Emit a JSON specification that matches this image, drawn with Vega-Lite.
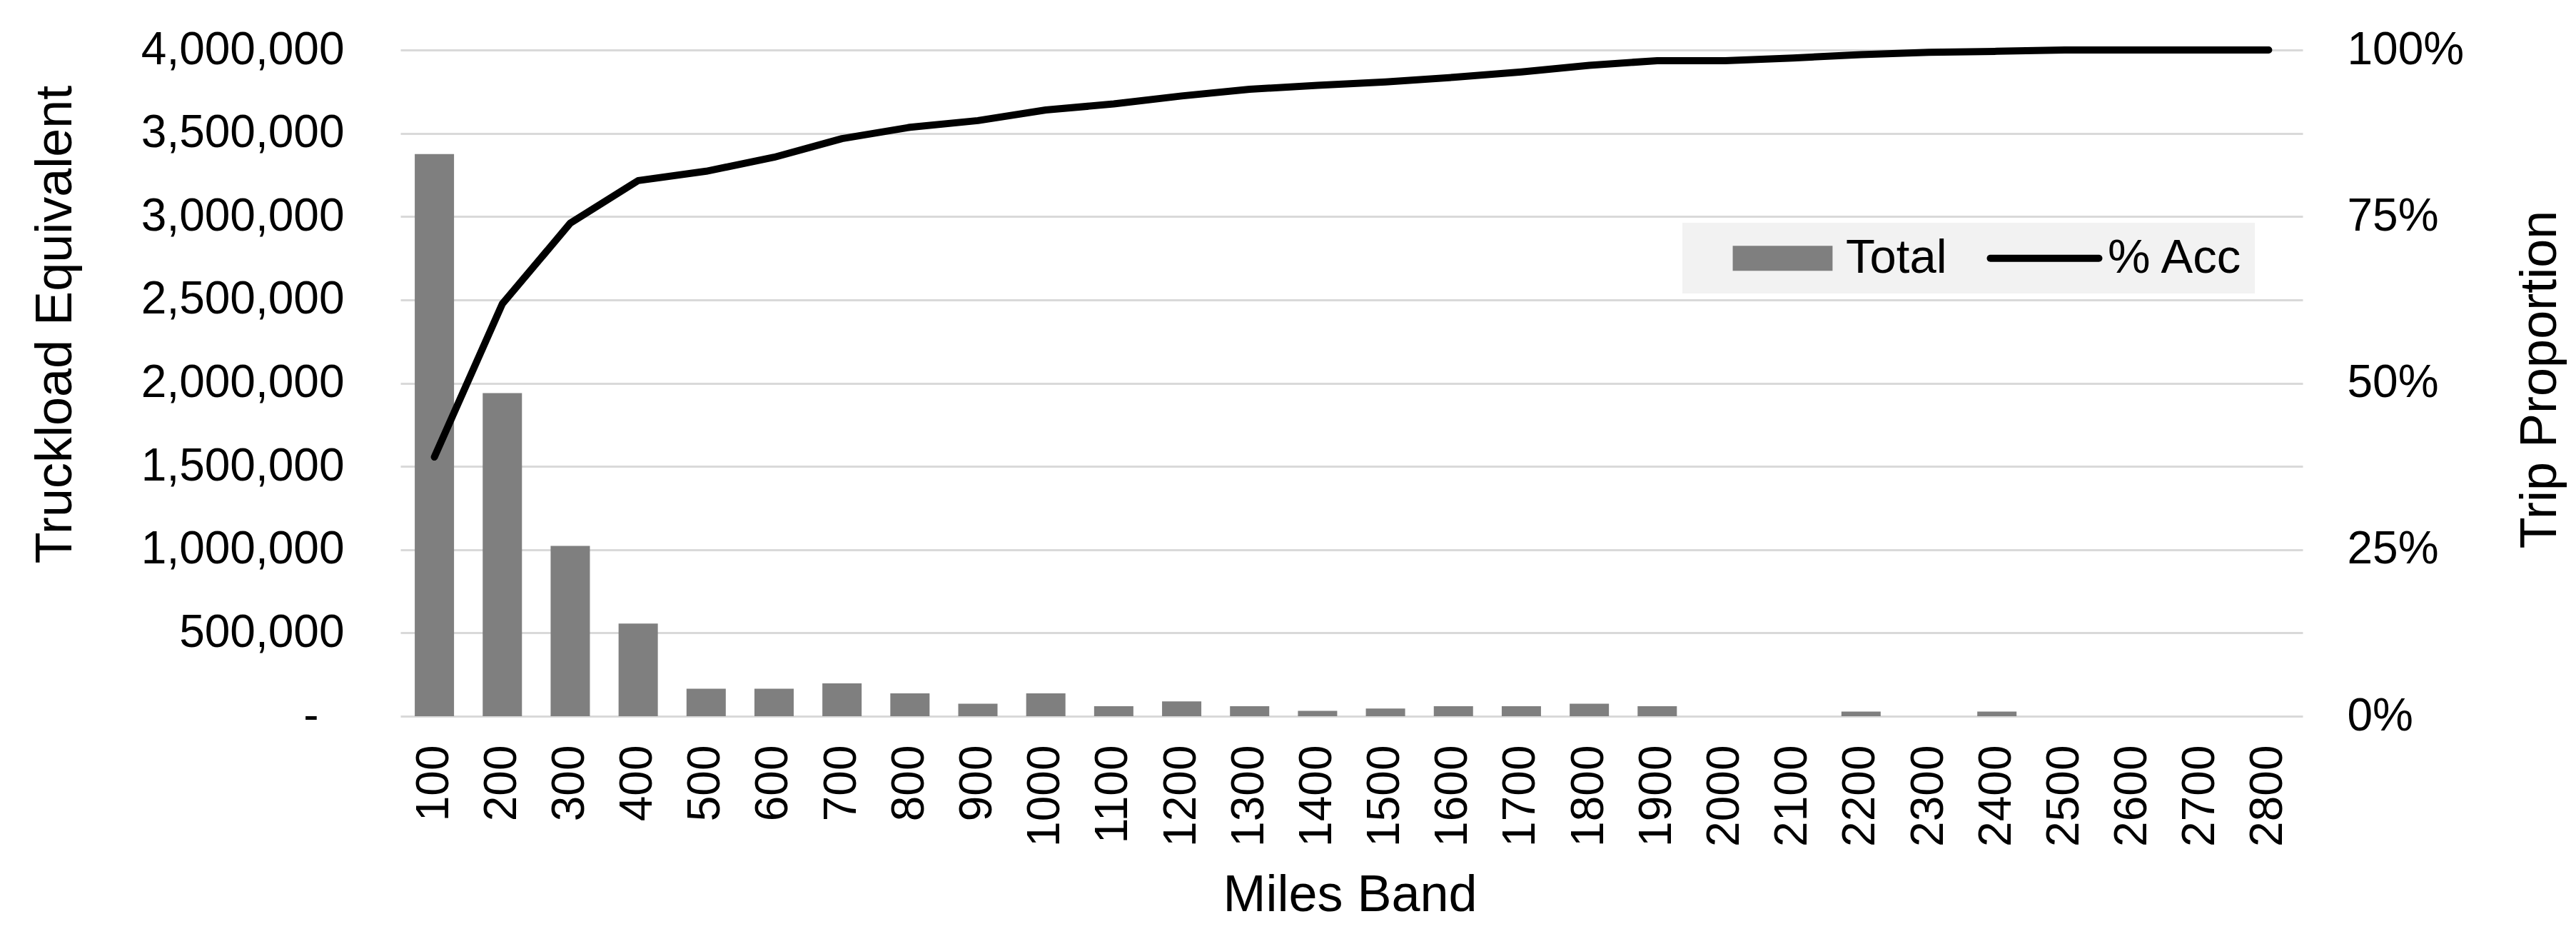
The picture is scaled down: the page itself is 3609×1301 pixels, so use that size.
{
  "$schema": "https://vega.github.io/schema/vega-lite/v6.json",
  "width": 2665,
  "height": 933,
  "autosize": {"type": "none"},
  "padding": {"left": 561, "top": 70, "right": 383, "bottom": 298},
  "background": "white",
  "config": {"view": {"stroke": null}, "font": "Liberation Sans"},
  "data": {
    "values": [
      {"band": 100, "total": 3375000, "acc": 0.389},
      {"band": 200, "total": 1940000, "acc": 0.619},
      {"band": 300, "total": 1023000, "acc": 0.740},
      {"band": 400, "total": 556000, "acc": 0.804},
      {"band": 500, "total": 165000, "acc": 0.818},
      {"band": 600, "total": 165000, "acc": 0.839},
      {"band": 700, "total": 197000, "acc": 0.867},
      {"band": 800, "total": 137000, "acc": 0.884},
      {"band": 900, "total": 75000, "acc": 0.894},
      {"band": 1000, "total": 137000, "acc": 0.910},
      {"band": 1100, "total": 60000, "acc": 0.919},
      {"band": 1200, "total": 89000, "acc": 0.931},
      {"band": 1300, "total": 60000, "acc": 0.941},
      {"band": 1400, "total": 32000, "acc": 0.947},
      {"band": 1500, "total": 46000, "acc": 0.952},
      {"band": 1600, "total": 60000, "acc": 0.959},
      {"band": 1700, "total": 60000, "acc": 0.967},
      {"band": 1800, "total": 75000, "acc": 0.977},
      {"band": 1900, "total": 60000, "acc": 0.984},
      {"band": 2000, "total": 0, "acc": 0.984},
      {"band": 2100, "total": 0, "acc": 0.988},
      {"band": 2200, "total": 28000, "acc": 0.993},
      {"band": 2300, "total": 0, "acc": 0.9965},
      {"band": 2400, "total": 28000, "acc": 0.998},
      {"band": 2500, "total": 0, "acc": 1.0},
      {"band": 2600, "total": 0, "acc": 1.0},
      {"band": 2700, "total": 0, "acc": 1.0},
      {"band": 2800, "total": 0, "acc": 1.0}
    ]
  },
  "encoding": {
    "x": {
      "field": "band",
      "type": "ordinal",
      "scale": {"paddingInner": 0.422, "paddingOuter": 0.211},
      "axis": {
        "labelAngle": 270,
        "labelAlign": "right",
        "labelBaseline": "middle",
        "labelPadding": 40,
        "labelFontSize": 64,
        "labelFont": "Liberation Sans",
        "labelColor": "#000000",
        "labelOverlap": false,
        "labelLimit": 1000,
        "ticks": false,
        "domain": false,
        "grid": false,
        "title": "Miles Band",
        "titleFont": "Liberation Sans",
        "titleFontSize": 72,
        "titleFontWeight": "normal",
        "titleColor": "#000000",
        "titleAlign": "center",
        "titleBaseline": "alphabetic",
        "titleX": 1330,
        "titleY": 272
      }
    }
  },
  "layer": [
    {
      "mark": {"type": "bar"},
      "encoding": {
        "y": {
          "field": "total",
          "type": "quantitative",
          "scale": {"domain": [0, 4000000], "nice": false, "zero": true},
          "axis": {
            "orient": "left",
            "values": [0, 500000, 1000000, 1500000, 2000000, 2500000, 3000000, 3500000, 4000000],
            "labelExpr": "datum.value === 0 ? '-' : format(datum.value, ',')",
            "grid": true,
            "gridColor": "#d9d9d9",
            "gridWidth": 3,
            "domain": false,
            "ticks": false,
            "labelPadding": {"condition": {"test": "datum.value === 0", "value": 115}, "value": 79},
            "labelFontSize": 64,
            "labelFont": "Liberation Sans",
            "labelColor": "#000000",
            "labelOverlap": false,
            "labelLimit": 1000,
            "title": "Truckload Equivalent",
            "titleFont": "Liberation Sans",
            "titleFontSize": 72,
            "titleFontWeight": "normal",
            "titleColor": "#000000",
            "titleAngle": 270,
            "titleAlign": "center",
            "titleBaseline": "alphabetic",
            "titleX": -462,
            "titleY": 384
          }
        },
        "color": {
          "datum": "Total",
          "type": "nominal",
          "scale": {"domain": ["Total", "% Acc"], "range": ["#7f7f7f", "#000000"]},
          "legend": {
            "orient": "none",
            "legendX": 1796,
            "legendY": 242,
            "direction": "horizontal",
            "title": null,
            "fillColor": "#f2f2f2",
            "padding": 16,
            "labelFont": "Liberation Sans",
            "labelFontSize": 67,
            "labelColor": "#000000",
            "labelLimit": 1000,
            "symbolSize": 100,
            "symbolOffset": 91,
            "labelOffset": 55,
            "columnPadding": 12,
            "encode": {
              "symbols": {
                "update": {
                  "size": {"value": 23104},
                  "shape": {"signal": "datum.value === 'Total' ? 'M-0.92,-0.23H0.92V0.23H-0.92Z' : 'M-1,0H1'"},
                  "fill": {"signal": "datum.value === 'Total' ? '#7f7f7f' : 'transparent'"},
                  "stroke": {"signal": "datum.value === 'Total' ? 'transparent' : '#000000'"},
                  "strokeWidth": {"signal": "datum.value === 'Total' ? 0 : 10"},
                  "strokeCap": {"value": "round"},
                  "opacity": {"value": 1}
                }
              }
            }
          }
        }
      }
    },
    {
      "mark": {"type": "line", "strokeWidth": 10, "strokeJoin": "round", "strokeCap": "round"},
      "encoding": {
        "y": {
          "field": "acc",
          "type": "quantitative",
          "scale": {"domain": [0, 1], "nice": false},
          "axis": {
            "orient": "right",
            "values": [0, 0.25, 0.5, 0.75, 1],
            "format": ".0%",
            "grid": false,
            "domain": false,
            "ticks": false,
            "labelPadding": 62,
            "labelFontSize": 64,
            "labelFont": "Liberation Sans",
            "labelColor": "#000000",
            "labelOverlap": false,
            "title": "Trip Proportion",
            "titleFont": "Liberation Sans",
            "titleFontSize": 72,
            "titleFontWeight": "normal",
            "titleColor": "#000000",
            "titleAngle": 270,
            "titleAlign": "center",
            "titleBaseline": "alphabetic",
            "titleX": 354,
            "titleY": 461
          }
        },
        "color": {"datum": "% Acc", "type": "nominal"}
      }
    }
  ],
  "resolve": {"scale": {"y": "independent"}}
}
